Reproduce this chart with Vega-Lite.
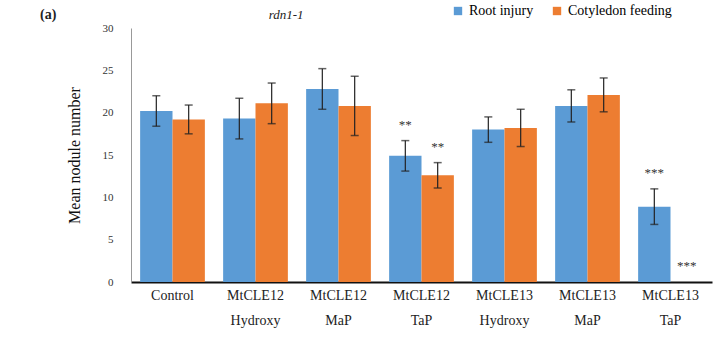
{
  "$schema": "https://vega.github.io/schema/vega-lite/v6.json",
  "width": 581,
  "height": 254,
  "autosize": {"type": "none"},
  "padding": {"left": 131, "top": 28, "right": 11, "bottom": 57},
  "background": "white",
  "config": {
    "view": {"stroke": null},
    "font": "Liberation Serif",
    "axis": {"labelFont": "Liberation Serif", "titleFont": "Liberation Serif", "grid": false},
    "legend": {"labelFont": "Liberation Serif"},
    "text": {"font": "Liberation Serif"}
  },
  "data": {
    "values": [
      {"group": "Control", "treatment": "Root injury", "mean": 20.2, "lo": 18.4, "hi": 22.0, "sig": ""},
      {"group": "Control", "treatment": "Cotyledon feeding", "mean": 19.2, "lo": 17.5, "hi": 20.9, "sig": ""},
      {"group": "MtCLE12 Hydroxy", "treatment": "Root injury", "mean": 19.3, "lo": 16.9, "hi": 21.7, "sig": ""},
      {"group": "MtCLE12 Hydroxy", "treatment": "Cotyledon feeding", "mean": 21.1, "lo": 18.7, "hi": 23.5, "sig": ""},
      {"group": "MtCLE12 MaP", "treatment": "Root injury", "mean": 22.8, "lo": 20.4, "hi": 25.2, "sig": ""},
      {"group": "MtCLE12 MaP", "treatment": "Cotyledon feeding", "mean": 20.8, "lo": 17.3, "hi": 24.3, "sig": ""},
      {"group": "MtCLE12 TaP", "treatment": "Root injury", "mean": 14.9, "lo": 13.1, "hi": 16.7, "sig": "**"},
      {"group": "MtCLE12 TaP", "treatment": "Cotyledon feeding", "mean": 12.6, "lo": 11.1, "hi": 14.1, "sig": "**"},
      {"group": "MtCLE13 Hydroxy", "treatment": "Root injury", "mean": 18.0, "lo": 16.5, "hi": 19.5, "sig": ""},
      {"group": "MtCLE13 Hydroxy", "treatment": "Cotyledon feeding", "mean": 18.2, "lo": 16.0, "hi": 20.4, "sig": ""},
      {"group": "MtCLE13 MaP", "treatment": "Root injury", "mean": 20.8, "lo": 18.9, "hi": 22.7, "sig": ""},
      {"group": "MtCLE13 MaP", "treatment": "Cotyledon feeding", "mean": 22.1, "lo": 20.1, "hi": 24.1, "sig": ""},
      {"group": "MtCLE13 TaP", "treatment": "Root injury", "mean": 8.9, "lo": 6.8, "hi": 11.0, "sig": "***"},
      {"group": "MtCLE13 TaP", "treatment": "Cotyledon feeding", "mean": 0, "lo": 0, "hi": 0, "sig": "***"}
    ]
  },
  "encoding": {
    "x": {
      "field": "group", "type": "nominal", "sort": null,
      "scale": {"paddingInner": 0.22, "paddingOuter": 0.11},
      "axis": {
        "title": null, "labelAngle": 0, "labelFontSize": 14, "labelColor": "#222",
        "labelExpr": "split(datum.label, ' ')", "labelLineHeight": 25, "labelPadding": 6,
        "ticks": false, "domainColor": "#111", "domainWidth": 2
      }
    },
    "xOffset": {"field": "treatment", "type": "nominal", "sort": ["Root injury", "Cotyledon feeding"]}
  },
  "layer": [
    {
      "mark": {"type": "bar"},
      "encoding": {
        "y": {
          "field": "mean", "type": "quantitative",
          "scale": {"domain": [0, 30]},
          "axis": {"values": [0, 5, 10, 15, 20, 25, 30], "title": "Mean nodule number", "titleFontSize": 16, "titleFontWeight": "normal", "titleColor": "#111", "titlePadding": 20, "labelFontSize": 11, "labelColor": "#333", "ticks": false, "labelPadding": 18, "domainColor": "#999", "domainWidth": 1}
        },
        "color": {
          "field": "treatment", "type": "nominal", "sort": ["Root injury", "Cotyledon feeding"],
          "scale": {"domain": ["Root injury", "Cotyledon feeding"], "range": ["#5B9BD5", "#ED7D31"]},
          "legend": {"title": null, "orient": "none", "legendX": 320, "legendY": -24, "direction": "horizontal", "symbolType": "square", "symbolSize": 70, "labelFontSize": 14, "columnPadding": 16, "symbolStrokeWidth": 0}
        }
      }
    },
    {
      "transform": [{"filter": "datum.hi > 0"}],
      "mark": {"type": "rule", "color": "#222", "strokeWidth": 1.2},
      "encoding": {"y": {"field": "lo", "type": "quantitative"}, "y2": {"field": "hi"}}
    },
    {
      "transform": [{"filter": "datum.hi > 0"}],
      "mark": {"type": "tick", "color": "#222", "size": 8, "thickness": 1.5, "orient": "horizontal"},
      "encoding": {"y": {"field": "hi", "type": "quantitative"}}
    },
    {
      "transform": [{"filter": "datum.hi > 0"}],
      "mark": {"type": "tick", "color": "#222", "size": 8, "thickness": 1.5, "orient": "horizontal"},
      "encoding": {"y": {"field": "lo", "type": "quantitative"}}
    },
    {
      "mark": {"type": "text", "dy": -9, "fontSize": 13, "color": "#333", "baseline": "bottom", "font": "Liberation Serif"},
      "encoding": {"y": {"field": "hi", "type": "quantitative"}, "text": {"field": "sig"}}
    },
    {
      "data": {"values": [{"label": "rdn1-1"}]},
      "mark": {"type": "text", "fontStyle": "italic", "fontSize": 13, "dx": 63, "dy": -13, "color": "#222", "font": "Liberation Serif"},
      "encoding": {
        "x": {"datum": "MtCLE12 Hydroxy"},
        "y": {"datum": 30},
        "text": {"field": "label"},
        "xOffset": {"value": 0}
      }
    },
    {
      "data": {"values": [{"label": "(a)"}]},
      "mark": {"type": "text", "fontWeight": "bold", "fontSize": 14, "dx": -92, "dy": -13, "color": "#222", "font": "Liberation Serif"},
      "encoding": {
        "x": {"datum": "Control"},
        "y": {"datum": 30},
        "text": {"field": "label"},
        "xOffset": {"value": 0}
      }
    }
  ]
}
